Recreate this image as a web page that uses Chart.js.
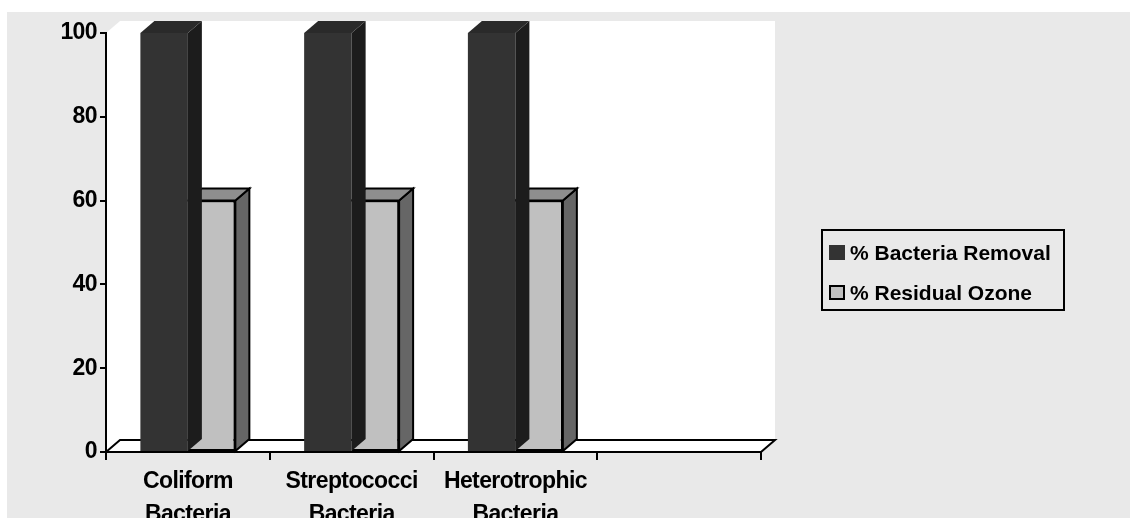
<!DOCTYPE html>
<html><head><meta charset="utf-8">
<script src="https://cdn.jsdelivr.net/npm/chart.js@4"></script>
<style>html,body{margin:0;padding:0;background:#fff}#wrap{width:1130px;height:518px;position:relative}</style>
</head><body><div id="wrap"><canvas id="c"></canvas></div>
<script>
// ---- data ----
const categories = [['Coliform','Bacteria'],['Streptococci','Bacteria'],['Heterotrophic','Bacteria'],''];
const bacteriaRemoval = [100,100,100,null];
const residualOzone = [60,60,60,null];
const yTicks = [0,20,40,60,80,100];
const seriesNames = ['% Bacteria Removal','% Residual Ozone'];

// ---- style ----
const DX = 14, DY = 12;
const BG = '#e9e9e9';
const FAMILY = '"Liberation Sans", Arial, sans-serif';
const FONT = {family:FAMILY, weight:'bold', size:23};
const LEGEND_FONT = `bold 21px ${FAMILY}`;
const faces = [
  {front:'#333333', side:'#1c1c1c', top:'#2a2a2a', stroke:null},
  {front:'#c0c0c0', side:'#666666', top:'#8e8e8e', stroke:'#000'}
];

function poly(ctx, pts, fill, stroke){
  ctx.beginPath();
  ctx.moveTo(pts[0][0], pts[0][1]);
  for (let i=1;i<pts.length;i++) ctx.lineTo(pts[i][0], pts[i][1]);
  ctx.closePath();
  if (fill){ctx.fillStyle = fill; ctx.fill();}
  if (stroke){ctx.strokeStyle = stroke; ctx.lineWidth = 2; ctx.lineJoin='miter'; ctx.stroke();}
}

const scene = {
  id:'scene',
  beforeLayout(chart){ chart.ctx.letterSpacing = '-0.6px'; },
  beforeDraw(chart){
    const ctx = chart.ctx, a = chart.chartArea;
    ctx.letterSpacing = '-0.6px';
    ctx.save();
    ctx.fillStyle = '#fff'; ctx.fillRect(0,0,chart.width,chart.height);
    ctx.fillStyle = BG; ctx.fillRect(7,12,chart.width-7,chart.height-12);
    // left wall
    poly(ctx, [[a.left,a.top],[a.left+DX,a.top-DY],[a.left+DX,a.bottom-DY],[a.left,a.bottom]], '#fff', null);
    // back wall
    poly(ctx, [[a.left+DX,a.top-DY],[a.right+DX,a.top-DY],[a.right+DX,a.bottom-DY],[a.left+DX,a.bottom-DY]], '#fff', null);
    // floor
    poly(ctx, [[a.left,a.bottom],[a.left+DX,a.bottom-DY],[a.right+DX,a.bottom-DY],[a.right,a.bottom]], '#fff', '#000');
    ctx.restore();
  },
  afterDatasetDraw(chart, args){
    const ctx = chart.ctx, f = faces[args.index];
    const meta = chart.getDatasetMeta(args.index);
    ctx.save();
    meta.data.forEach((el, i) => {
      const v = chart.data.datasets[args.index].data[i];
      if (v === null || v === undefined) return;
      const p = el.getProps(['x','y','base','width'], true);
      const l = p.x - p.width/2, r = p.x + p.width/2, t = p.y, b = p.base;
      poly(ctx, [[r,t],[r+DX,t-DY],[r+DX,b-DY],[r,b]], f.side, f.stroke);
      poly(ctx, [[l,t],[l+DX,t-DY],[r+DX,t-DY],[r,t]], f.top, f.stroke);
    });
    ctx.restore();
  },
  afterDatasetsDraw(chart){
    const ctx = chart.ctx, a = chart.chartArea;
    ctx.save();
    ctx.strokeStyle = '#000'; ctx.lineWidth = 2;
    ctx.beginPath(); ctx.moveTo(a.left, a.bottom); ctx.lineTo(a.right, a.bottom); ctx.stroke();
    // legend
    const bx = 822, by = 230, bw = 242, bh = 80;
    ctx.fillStyle = BG; ctx.fillRect(bx,by,bw,bh);
    ctx.strokeRect(bx,by,bw,bh);
    ctx.font = LEGEND_FONT;
    ctx.letterSpacing = '0px';
    ctx.textBaseline = 'alphabetic'; ctx.textAlign = 'left';
    chart.data.datasets.forEach((ds, i) => {
      const y = 245 + i*40;
      ctx.fillStyle = ds.backgroundColor;
      if (ds.borderWidth){ ctx.fillRect(830,y+1,14,13); ctx.lineWidth=2; ctx.strokeStyle='#000'; ctx.strokeRect(830,y+1,14,13); }
      else ctx.fillRect(829,y,16,15);
      ctx.fillStyle = '#000';
      ctx.fillText(ds.label, 850, y+15);
    });
    ctx.restore();
  }
};

new Chart(document.getElementById('c'), {
  type:'bar',
  data:{
    labels: categories,
    datasets:[
      {label:seriesNames[0], data:bacteriaRemoval, backgroundColor:faces[0].front, borderWidth:0, categoryPercentage:0.58, barPercentage:1},
      {label:seriesNames[1], data:residualOzone, backgroundColor:faces[1].front, borderColor:'#000', borderWidth:2, borderSkipped:false, categoryPercentage:0.58, barPercentage:1}
    ]
  },
  options:{
    responsive:true, maintainAspectRatio:false, animation:false,
    layout:{padding:{left:0,right:369,top:33,bottom:0}},
    plugins:{legend:{display:false}, tooltip:{enabled:false}},
    scales:{
      x:{
        offset:true,
        grid:{offset:true, display:true, drawOnChartArea:false, drawTicks:true, tickLength:8, color:'#000', lineWidth:2},
        border:{display:true, color:'#000', width:2},
        ticks:{font:{...FONT, lineHeight:1.43}, color:'#000', padding:5, maxRotation:0, autoSkip:false},
        afterFit(s){ s.height = 66; }
      },
      y:{
        min:0, max:100,
        afterBuildTicks(s){ s.ticks = yTicks.map(v => ({value:v})); },
        afterFit(s){ s.width = 106; },
        grid:{display:true, drawOnChartArea:false, drawTicks:true, tickLength:6, color:'#000', lineWidth:2},
        border:{display:true, color:'#000', width:2},
        ticks:{font:FONT, color:'#000', padding:3}
      }
    }
  },
  plugins:[scene]
});
</script>
</body></html>
